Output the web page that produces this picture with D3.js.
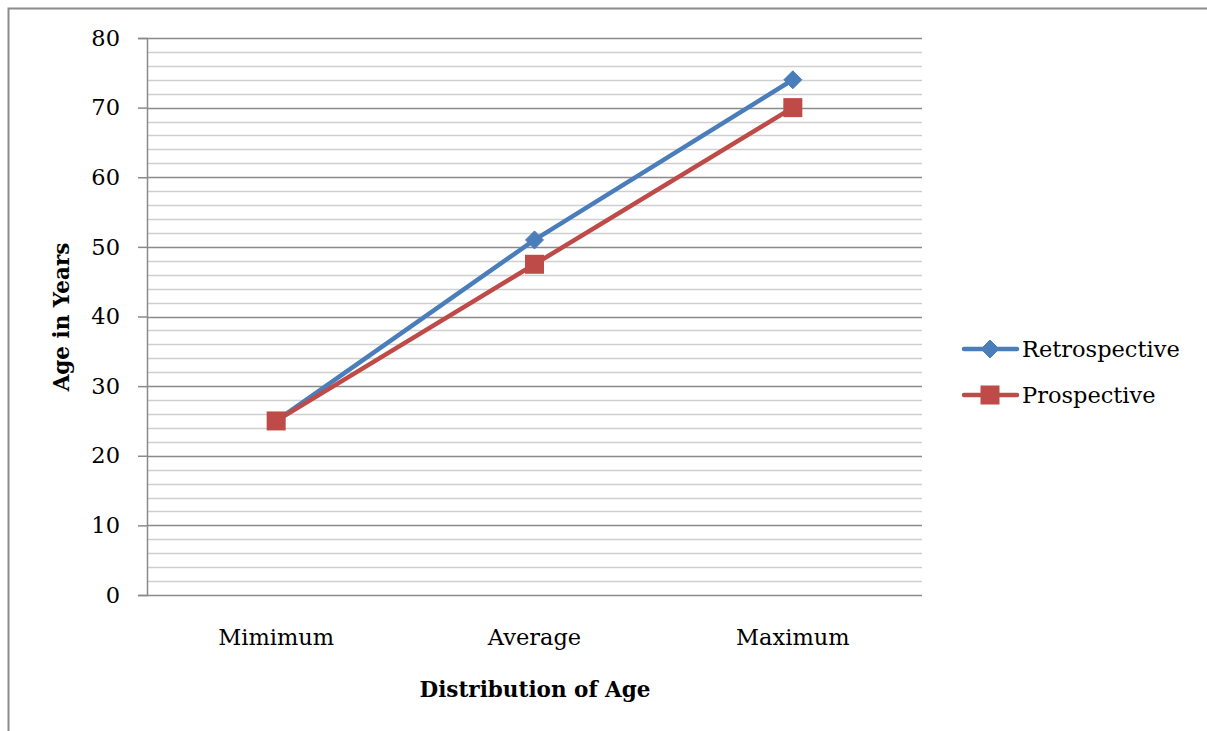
<!DOCTYPE html>
<html>
<head>
<meta charset="utf-8">
<script src="https://cdn.jsdelivr.net/npm/d3@7"></script>
<style>
  html, body { margin: 0; padding: 0; background: #fff; }
  svg { display: block; }
  text { font-family: "DejaVu Serif", "Liberation Serif", serif; fill: #000; }
</style>
</head>
<body>
<svg id="chart" width="1207" height="731"></svg>
<script>
// Age distribution data
const categories = ["Mimimum", "Average", "Maximum"];
const retrospective = [25, 51, 74];
const prospective = [25, 47.5, 70];
const seriesNames = ["Retrospective", "Prospective"];
const yTicks = [0, 10, 20, 30, 40, 50, 60, 70, 80];
const yMinorTicks = d3.range(0, 81, 2);

const svg = d3.select("#chart");
const W = 1207, H = 731;
const plot = { left: 147, right: 922, top: 38, bottom: 595 };
const FONT = "'DejaVu Serif', 'Liberation Serif', serif";
const FS = "22.5px";
const FS_BOLD = "21.5px";

// Outer frame
svg.append("path")
  .attr("d", `M8.5,${H} L8.5,8.5 L${W},8.5`)
  .attr("fill", "none").attr("stroke", "#8c8c8c").attr("stroke-width", 2);

const x = d3.scaleBand().domain(categories).range([plot.left, plot.right]);
const y = d3.scaleLinear().domain([0, 80]).range([plot.bottom, plot.top]);

// Minor gridlines
svg.append("g").selectAll("line")
  .data(yMinorTicks.filter(v => v % 10 !== 0))
  .join("line")
  .attr("x1", plot.left).attr("x2", plot.right)
  .attr("y1", d => Math.round(y(d)) + 0.5).attr("y2", d => Math.round(y(d)) + 0.5)
  .attr("stroke", "#cfcfcf").attr("stroke-width", 1.5);

// Major gridlines
svg.append("g").selectAll("line")
  .data(yTicks)
  .join("line")
  .attr("x1", plot.left).attr("x2", plot.right)
  .attr("y1", d => Math.round(y(d)) + 0.5).attr("y2", d => Math.round(y(d)) + 0.5)
  .attr("stroke", "#8a8a8a").attr("stroke-width", 1.5);

// Y axis
const yAxis = svg.append("g")
  .attr("transform", `translate(${plot.left},0)`)
  .call(d3.axisLeft(y).tickValues(yTicks).tickSize(9).tickPadding(18).tickFormat(d3.format("d")));
yAxis.select(".domain").attr("stroke", "#8a8a8a").attr("stroke-width", 1.5);
yAxis.selectAll(".tick line").attr("stroke", "#8a8a8a").attr("stroke-width", 1.5);
yAxis.selectAll("text").style("font-size", FS).style("font-family", FONT).attr("fill", "#000");

// X axis labels
svg.append("g").selectAll("text")
  .data(categories)
  .join("text")
  .attr("x", d => x(d) + x.bandwidth() / 2)
  .attr("y", 645)
  .attr("text-anchor", "middle")
  .style("font-size", FS)
  .text(d => d);

// Axis titles
svg.append("text")
  .attr("x", 535).attr("y", 697)
  .attr("text-anchor", "middle")
  .style("font-size", FS_BOLD).style("font-weight", "bold")
  .text("Distribution of Age");

svg.append("text")
  .attr("transform", "translate(69,317) rotate(-90)")
  .attr("text-anchor", "middle")
  .style("font-size", FS_BOLD).style("font-weight", "bold")
  .text("Age in Years");

const colors = ["#4a7ebb", "#be4b48"];
const series = [retrospective, prospective];
const cx = d => x(d) + x.bandwidth() / 2;

const line = d3.line()
  .x((d, i) => cx(categories[i]))
  .y(d => y(d));

// Retrospective line first, prospective drawn over it
[0, 1].forEach(s => {
  svg.append("path")
    .datum(series[s])
    .attr("d", line)
    .attr("fill", "none")
    .attr("stroke", colors[s])
    .attr("stroke-width", 4.5)
    .attr("stroke-linejoin", "round");
});

function diamond(g, px, py, c, r) {
  g.append("path")
    .attr("d", `M${px},${py - r} L${px + r},${py} L${px},${py + r} L${px - r},${py} Z`)
    .attr("fill", c).attr("stroke", c).attr("stroke-width", 1).attr("stroke-linejoin", "round");
}
function square(g, px, py, c, s) {
  g.append("rect")
    .attr("x", px - s / 2).attr("y", py - s / 2)
    .attr("width", s).attr("height", s)
    .attr("fill", c);
}

const markers = svg.append("g");
retrospective.forEach((v, i) => diamond(markers, cx(categories[i]), y(v), colors[0], 9));
prospective.forEach((v, i) => square(markers, cx(categories[i]), y(v), colors[1], 19));

// Legend
const legend = svg.append("g");
const legendY = [349, 395];
seriesNames.forEach((name, i) => {
  const ly = legendY[i];
  legend.append("line")
    .attr("x1", 964).attr("x2", 1017)
    .attr("y1", ly).attr("y2", ly)
    .attr("stroke", colors[i]).attr("stroke-width", 4.5).attr("stroke-linecap", "round");
  if (i === 0) diamond(legend, 990, ly, colors[0], 9);
  else square(legend, 990, ly, colors[1], 19);
  legend.append("text")
    .attr("x", 1022).attr("y", ly + 8)
    .style("font-size", FS)
    .text(name);
});
</script>
</body>
</html>
